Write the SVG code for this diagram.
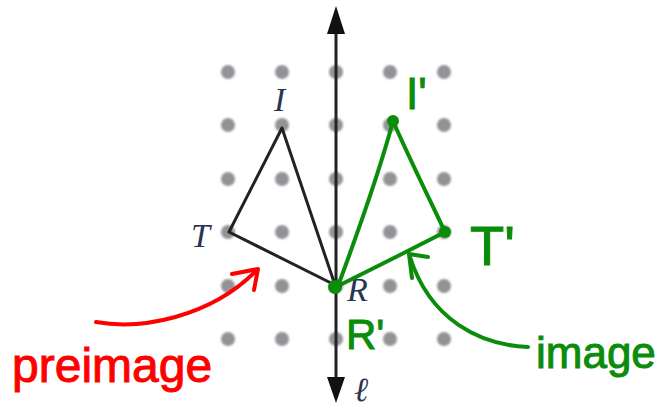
<svg xmlns="http://www.w3.org/2000/svg" width="661" height="412" viewBox="0 0 661 412">
<style>
.dot{fill:#929297}
.blk{fill:none;stroke:#222;stroke-width:3;stroke-linejoin:round;stroke-linecap:round}
.grn{fill:none;stroke:#0b8c0b;stroke-width:4;stroke-linecap:round;stroke-linejoin:round}
.red{fill:none;stroke:#f00;stroke-width:4;stroke-linecap:round;stroke-linejoin:round}
.lbl{font-family:"Liberation Serif","DejaVu Serif",serif;font-style:italic;font-size:34px;fill:#2a3550}
.hg{font-family:"Liberation Sans",Arial,sans-serif;fill:#0b8c0b;stroke:#0b8c0b;stroke-width:1}
.hr{font-family:"Liberation Sans",Arial,sans-serif;fill:#f00;stroke:#f00;stroke-width:1}
</style>
<defs>
<filter id="soft" x="-50%" y="-50%" width="200%" height="200%"><feGaussianBlur stdDeviation="0.8"/></filter>
</defs>
<rect width="661" height="412" fill="#fff"/>
<g id="grid" filter="url(#soft)">
<circle class="dot" cx="228" cy="72" r="7"/><circle class="dot" cx="282" cy="72" r="7"/><circle class="dot" cx="336" cy="72" r="7"/><circle class="dot" cx="390" cy="72" r="7"/><circle class="dot" cx="444" cy="72" r="7"/>
<circle class="dot" cx="228" cy="125" r="7"/><circle class="dot" cx="282" cy="125" r="7"/><circle class="dot" cx="336" cy="125" r="7"/><circle class="dot" cx="390" cy="125" r="7"/><circle class="dot" cx="444" cy="125" r="7"/>
<circle class="dot" cx="228" cy="179" r="7"/><circle class="dot" cx="282" cy="179" r="7"/><circle class="dot" cx="336" cy="179" r="7"/><circle class="dot" cx="390" cy="179" r="7"/><circle class="dot" cx="444" cy="179" r="7"/>
<circle class="dot" cx="228" cy="232" r="7"/><circle class="dot" cx="282" cy="232" r="7"/><circle class="dot" cx="336" cy="232" r="7"/><circle class="dot" cx="390" cy="232" r="7"/><circle class="dot" cx="444" cy="232" r="7"/>
<circle class="dot" cx="228" cy="286" r="7"/><circle class="dot" cx="282" cy="286" r="7"/><circle class="dot" cx="336" cy="286" r="7"/><circle class="dot" cx="390" cy="286" r="7"/><circle class="dot" cx="444" cy="286" r="7"/>
<circle class="dot" cx="228" cy="339" r="7"/><circle class="dot" cx="282" cy="339" r="7"/><circle class="dot" cx="336" cy="339" r="7"/><circle class="dot" cx="390" cy="339" r="7"/><circle class="dot" cx="444" cy="339" r="7"/>
</g>
<g id="axis">
<line x1="336" y1="30" x2="336" y2="382" stroke="#222" stroke-width="3"/>
<path d="M336 6 L345 34 L327 34 Z" fill="#111"/>
<path d="M336 403 L345 377 L327 377 Z" fill="#111"/>
<text class="lbl" x="354" y="401">ℓ</text>
</g>
<g id="preimage">
<path class="blk" d="M282 128 L229 232 L335 285 Z"/>
<text class="lbl" x="274" y="111">I</text>
<text class="lbl" x="191" y="247">T</text>
<text class="lbl" x="347" y="301">R</text>
</g>
<g id="image">
<path class="grn" d="M393 121 C380 170 355 240 338 286"/>
<path class="grn" d="M393 121 C410 160 430 200 445 232"/>
<path class="grn" d="M445 232 C410 250 370 270 336 287"/>
<circle cx="393" cy="121" r="6" fill="#0b8c0b"/>
<circle cx="445" cy="232" r="6" fill="#0b8c0b"/>
<circle cx="335" cy="287" r="7" fill="#0b8c0b"/>
<text class="hg" x="406" y="109" font-size="44">I'</text>
<text class="hg" x="470" y="265" font-size="56">T'</text>
<text class="hg" x="346" y="349" font-size="42">R'</text>
</g>
<g id="connectors">
<path class="red" d="M96 322 C140 330 210 318 257 270"/>
<path class="red" d="M232 274 L258 269 L254 290"/>
<path class="grn" d="M528 347 C480 345 430 320 410 257"/>
<path class="grn" d="M428 257 L409 254 L412 278"/>
</g>
<g id="annotations">
<text class="hr" x="12" y="382" font-size="48">preimage</text>
<text class="hg" x="536" y="368" font-size="44">image</text>
</g>
</svg>
